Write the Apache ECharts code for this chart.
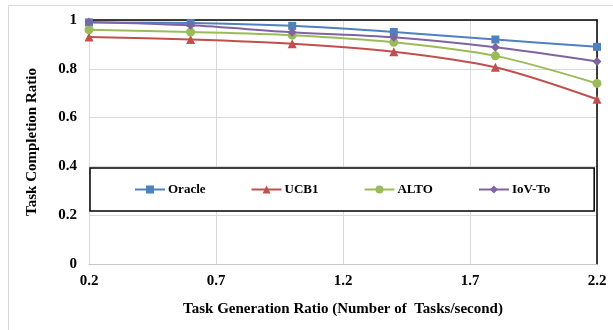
<!DOCTYPE html>
<html>
<head>
<meta charset="utf-8">
<script src="https://cdn.jsdelivr.net/npm/echarts@6/dist/echarts.min.js"></script>
<style>html,body{margin:0;padding:0;background:#fff;}#c{width:613px;height:330px;}</style>
</head>
<body>
<div id="c"></div>
<script>
const xValues = [0.2, 0.6, 1.0, 1.4, 1.8, 2.2];
const seriesNames = ['Oracle', 'UCB1', 'ALTO', 'IoV-To'];
const oracle = [0.99, 0.988, 0.976, 0.951, 0.92, 0.89];
const ucb1 = [0.93, 0.92, 0.903, 0.87, 0.806, 0.675];
const alto = [0.96, 0.951, 0.938, 0.909, 0.853, 0.74];
const iovTo = [0.992, 0.978, 0.95, 0.929, 0.888, 0.83];
const xTicks = [0.2, 0.7, 1.2, 1.7, 2.2];
const yTicks = [0, 0.2, 0.4, 0.6, 0.8, 1];

const font = 'Liberation Serif';
const colors = ['#4F81BD', '#C0504D', '#9BBB59', '#8064A2'];
const symbols = ['rect', 'triangle', 'circle', 'diamond'];
const sizes = [8, 9, 9, 9];
const values = [oracle, ucb1, alto, iovTo];

const chart = echarts.init(document.getElementById('c'), null, {renderer: 'canvas'});
chart.setOption({
  animation: false,
  backgroundColor: '#fff',
  graphic: [{
    type: 'rect', z: -10,
    shape: {x: 8.5, y: 5.5, width: 700, height: 400},
    style: {fill: 'none', stroke: '#d9d9d9', lineWidth: 1}
  }],
  grid: {left: 89, right: 16, top: 20, bottom: 66},
  legend: {
    data: seriesNames,
    left: 90, top: 168,
    padding: [15, 44, 15, 44],
    itemGap: 45,
    itemWidth: 30, itemHeight: 10,
    borderColor: '#000', borderWidth: 1.5,
    backgroundColor: '#fff',
    textStyle: {fontFamily: font, fontWeight: 'bold', fontSize: 13, color: '#000', padding: [0, 0, 0, -2]}
  },
  xAxis: [{
    type: 'value', min: xTicks[0], max: xTicks[xTicks.length - 1], interval: 0.5,
    name: 'Task Generation Ratio (Number of  Tasks/second)',
    nameLocation: 'middle', nameGap: 38,
    nameTextStyle: {fontFamily: font, fontWeight: 'bold', fontSize: 15, color: '#000'},
    axisLine: {show: true, onZero: false, lineStyle: {color: '#c8c8c8', width: 1}},
    axisTick: {show: false},
    axisLabel: {fontFamily: font, fontWeight: 'bold', fontSize: 15, color: '#000', margin: 10,
      formatter: v => Number(v).toFixed(1)},
    splitLine: {show: true, lineStyle: {color: '#d9d9d9', width: 1}}
  }, {
    type: 'value', position: 'top', min: xTicks[0], max: xTicks[xTicks.length - 1],
    axisLine: {show: true, onZero: false, lineStyle: {color: '#000', width: 1.5}},
    axisTick: {show: false}, axisLabel: {show: false}, splitLine: {show: false}
  }],
  yAxis: [{
    type: 'value', min: yTicks[0], max: yTicks[yTicks.length - 1], interval: 0.2,
    name: 'Task Completion Ratio',
    nameLocation: 'middle', nameGap: 49,
    nameTextStyle: {fontFamily: font, fontWeight: 'bold', fontSize: 15, color: '#000'},
    axisLine: {show: false, onZero: false},
    axisTick: {show: false},
    axisLabel: {fontFamily: font, fontWeight: 'bold', fontSize: 15, color: '#000', margin: 12},
    splitLine: {show: true, lineStyle: {color: '#d9d9d9', width: 1}}
  }, {
    type: 'value', position: 'right', min: 0, max: 1,
    axisLine: {show: true, onZero: false, lineStyle: {color: '#000', width: 1.5}},
    axisTick: {show: false}, axisLabel: {show: false}, splitLine: {show: false}
  }],
  series: seriesNames.map((n, i) => ({
    name: n, type: 'line', smooth: 0.3,
    data: xValues.map((x, j) => [x, values[i][j]]),
    symbol: symbols[i], symbolSize: sizes[i],
    lineStyle: {color: colors[i], width: 2},
    itemStyle: {color: colors[i]}
  }))
});
</script>
</body>
</html>
